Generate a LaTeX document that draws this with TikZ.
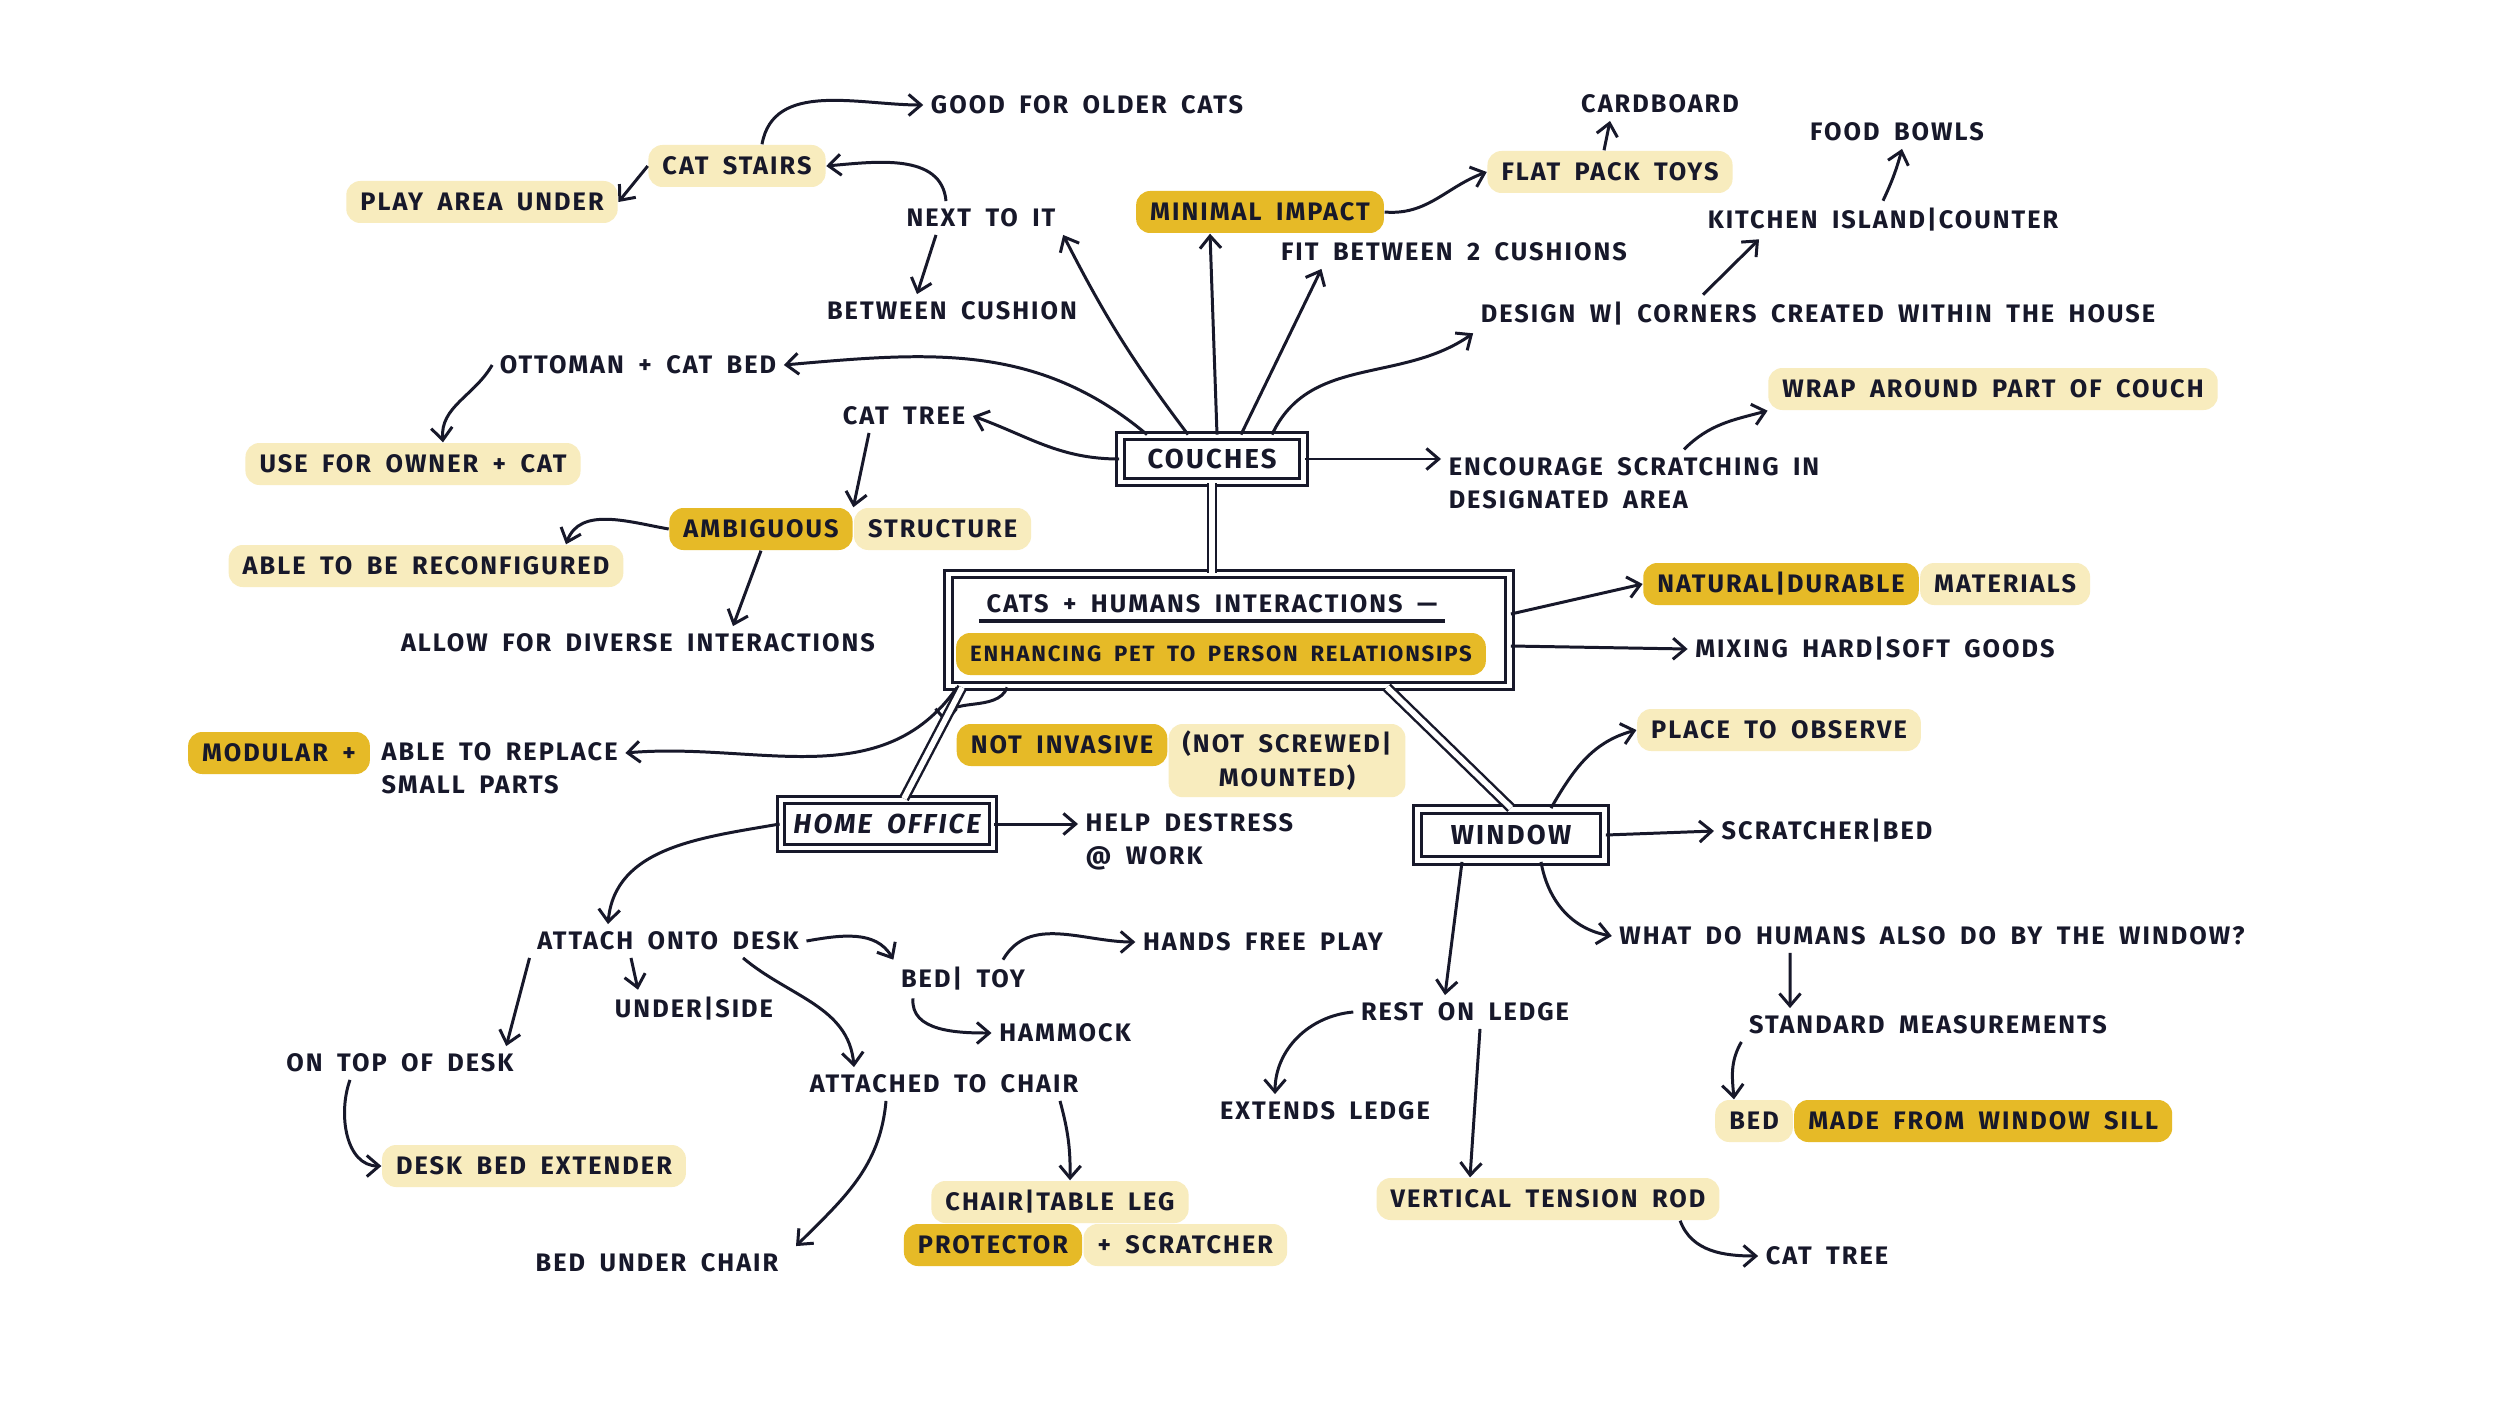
\documentclass[tikz,border=0pt]{standalone}
\usepackage{fontspec}
\setmainfont{Fira Sans}[LetterSpace=8,WordSpace=1.8]
\usetikzlibrary{arrows.meta,positioning}
\definecolor{ink}{HTML}{17182A}
\definecolor{hlight}{HTML}{F8ECBE}
\definecolor{hdark}{HTML}{E6BA27}

\begin{document}
\begin{tikzpicture}[
  font=\fontsize{7.2}{9.5}\selectfont\bfseries,
  txt/.style={inner sep=2pt, text=ink},
  hl/.style={txt, fill=hlight, rounded corners=4pt, inner xsep=4pt, minimum height=0.42cm},
  hd/.style={hl, fill=hdark},
  bx/.style={txt, draw=ink, line width=0.8pt, double, double distance=1.3pt, minimum height=0.46cm, font=\fontsize{7.8}{9.5}\selectfont\bfseries},
  arr/.style={-{Straight Barb[length=3.5pt,width=6pt]}, draw=ink, line width=0.85pt},
  link/.style={draw=ink, line width=0.7pt, double, double distance=1.6pt},
]
\path[use as bounding box, fill=white] (0,0) rectangle (25,-14.06);

% couches branch
\node[bx, minimum width=1.83cm] (couches) at (12.12,-4.59) {COUCHES};
\node[txt] (good) at (10.87,-1.05) {GOOD FOR OLDER CATS};
\node[hl] (stairs) at (7.37,-1.66) {CAT STAIRS};
\node[hl] (play) at (4.82,-2.02) {PLAY AREA UNDER};
\node[txt] (next) at (9.81,-2.18) {NEXT TO IT};
\node[txt] (between) at (9.52,-3.11) {BETWEEN CUSHION};
\node[hd] (minimal) at (12.60,-2.12) {MINIMAL IMPACT};
\node[hl] (flat) at (16.10,-1.72) {FLAT PACK TOYS};
\node[txt] (cardboard) at (16.60,-1.04) {CARDBOARD};
\node[txt] (food) at (18.97,-1.32) {FOOD BOWLS};
\node[txt] (kitchen) at (18.83,-2.20) {KITCHEN ISLAND|COUNTER};
\node[txt] (fit) at (14.54,-2.52) {FIT BETWEEN 2 CUSHIONS};
\node[txt] (design) at (18.18,-3.14) {DESIGN W| CORNERS CREATED WITHIN THE HOUSE};
\node[txt] (ottoman) at (6.38,-3.65) {OTTOMAN + CAT BED};
\node[txt] (cattree) at (9.04,-4.16) {CAT TREE};
\node[hl] (owner) at (4.13,-4.64) {USE FOR OWNER + CAT};
\node[txt, align=left] (encourage) at (16.34,-4.83) {ENCOURAGE SCRATCHING IN\\DESIGNATED AREA};
\node[hl] (wrap) at (19.93,-3.89) {WRAP AROUND PART OF COUCH};
\node[hd] (ambiguous) at (7.61,-5.29) {AMBIGUOUS};
\node[hl, right=0pt of ambiguous] (structure) {STRUCTURE};
\node[hl] (reconfig) at (4.26,-5.66) {ABLE TO BE RECONFIGURED};
\node[txt] (allow) at (6.38,-6.43) {ALLOW FOR DIVERSE INTERACTIONS};

% centre
\node[bx, minimum width=5.61cm, minimum height=1.12cm] (main) at (12.29,-6.30) {};
\node[txt] (title) at (12.12,-6.04) {CATS + HUMANS INTERACTIONS —};
\node[hd, minimum width=5.25cm, font=\fontsize{6.3}{9}\selectfont\bfseries] (enhance) at (12.21,-6.54) {ENHANCING PET TO PERSON RELATIONSIPS};
\draw[ink, line width=1pt] (title.south west) -- (title.south east);
\node[hd] (natural) at (17.81,-5.84) {NATURAL|DURABLE};
\node[hl, right=0pt of natural] (materials) {MATERIALS};
\node[txt] (mixing) at (18.75,-6.49) {MIXING HARD|SOFT GOODS};
\node[hd] (modular) at (2.79,-7.53) {MODULAR +};
\node[txt, align=left, anchor=west] (replace) at (3.74,-7.68) {ABLE TO REPLACE\\SMALL PARTS};
\node[hd] (invasive) at (10.62,-7.45) {NOT INVASIVE};
\node[hl, align=center, anchor=north west] (screwed) at (invasive.north east) {(NOT SCREWED|\\MOUNTED)};

% home office
\node[bx, minimum width=2.12cm, minimum height=0.48cm, font=\fontsize{7.8}{9.5}\selectfont\bfseries\itshape] (office) at (8.87,-8.24) {HOME OFFICE};
\node[txt, align=left, anchor=west] (destress) at (10.78,-8.42) {HELP DESTRESS\\@ WORK};
\node[txt] (attach) at (6.68,-9.41) {ATTACH ONTO DESK};
\node[txt] (bedtoy) at (9.63,-9.79) {BED| TOY};
\node[txt] (handsfree) at (12.63,-9.42) {HANDS FREE PLAY};
\node[txt] (hammock) at (10.65,-10.33) {HAMMOCK};
\node[txt] (underside) at (6.94,-10.09) {UNDER|SIDE};
\node[txt] (ontop) at (4.00,-10.63) {ON TOP OF DESK};
\node[txt] (chair) at (9.44,-10.84) {ATTACHED TO CHAIR};
\node[hl] (deskbed) at (5.34,-11.66) {DESK BED EXTENDER};
\node[txt] (bedunder) at (6.57,-12.63) {BED UNDER CHAIR};
\node[hl] (tableleg) at (10.60,-12.02) {CHAIR|TABLE LEG};
\node[hd] (protector) at (9.93,-12.45) {PROTECTOR};
\node[hl, right=0pt of protector] (scratch) {+ SCRATCHER};

% window
\node[bx, minimum width=1.87cm, minimum height=0.51cm] (window) at (15.11,-8.35) {WINDOW};
\node[hl] (observe) at (17.79,-7.30) {PLACE TO OBSERVE};
\node[txt] (scratcher) at (18.27,-8.31) {SCRATCHER|BED};
\node[txt] (humans) at (19.32,-9.36) {WHAT DO HUMANS ALSO DO BY THE WINDOW?};
\node[txt] (rest) at (14.65,-10.12) {REST ON LEDGE};
\node[txt] (extends) at (13.25,-11.11) {EXTENDS LEDGE};
\node[txt] (standard) at (19.28,-10.25) {STANDARD MEASUREMENTS};
\node[hl] (bedlt) at (17.54,-11.21) {BED};
\node[hd, right=0pt of bedlt] (sill) {MADE FROM WINDOW SILL};
\node[hl] (rod) at (15.48,-11.99) {VERTICAL TENSION ROD};
\node[txt] (cattree2) at (18.27,-12.56) {CAT TREE};

% arrows
\draw[arr] ([xshift=2.5mm]stairs.north) to[out=80,in=180] (good.west);
\draw[arr] ([xshift=-3.5mm]next.north) to[out=95,in=5] (stairs.east);
\draw[arr] (stairs.west) -- (play.east);
\draw[arr] ([xshift=-4.5mm]next.south) -- ([xshift=-3.5mm]between.north);
\draw[arr] ([xshift=-2.4mm]couches.north) to[bend left=5] (next.south east);
\draw[arr] ([xshift=0.5mm]couches.north) -- ([xshift=-5mm]minimal.south);
\draw[arr] ([xshift=2.9mm]couches.north) -- ([xshift=4.8mm]fit.south west);
\draw[arr] ([xshift=6mm]couches.north) to[out=65,in=215] (design.south west);
\draw[arr] (minimal.east) to[out=-5,in=200] (flat.west);
\draw[arr] ([xshift=-0.6mm]flat.north) -- ([xshift=-5mm]cardboard.south);
\draw[arr] ([xshift=-11.5mm]design.north) -- ([xshift=-12.4mm]kitchen.south);
\draw[arr] (kitchen.north) to[bend right=5] ([xshift=0.5mm]food.south);
\draw[arr] ([xshift=-6.5mm]couches.north) to[out=140,in=5] (ottoman.east);
\draw[arr] (ottoman.west) to[out=240,in=95] ([xshift=3mm]owner.north);
\draw[arr] (couches.west) to[out=180,in=-20] (cattree.east);
\draw[arr] ([xshift=-3.5mm]cattree.south) -- (ambiguous.north east);
\draw[arr] (ambiguous.west) to[out=170,in=70] ([xshift=14mm]reconfig.north);
\draw[arr] (ambiguous.south) -- ([xshift=9.5mm]allow.north);
\draw[arr] (couches.east) -- (couches.east -| encourage.west);
\draw[arr] ([xshift=5mm]encourage.north) to[out=45,in=195] (wrap.south west);
\draw[link] (couches.south) -- (couches.south |- main.north);
\draw[arr] ([yshift=1.6mm]main.east) -- (natural.west);
\draw[arr] ([yshift=-1.6mm]main.east) -- (mixing.west);
\draw[arr] ([xshift=1mm]main.south west) to[out=235,in=5] ([yshift=1.5mm]replace.east);
\draw[arr] ([xshift=6mm]main.south west) to[out=250,in=90] ([xshift=-1mm]invasive.north west);
\draw[link] ([xshift=1.5mm]main.south west) -- ([xshift=1.7mm]office.north);
\draw[link] ([xshift=15.8mm]main.south) -- (window.north);
\draw[arr] (office.east) -- (office.east -| destress.west);
\draw[arr] (office.west) to[out=190,in=85] ([xshift=-6mm]attach.north);
\draw[arr] (attach.east) to[out=10,in=120] (bedtoy.north west);
\draw[arr] ([xshift=-3.7mm]attach.south) -- ([xshift=-5.6mm]underside.north);
\draw[arr] (attach.south west) -- ([xshift=-1.5mm]ontop.north east);
\draw[arr] ([xshift=7.5mm]attach.south) to[out=-40,in=95] ([xshift=-9mm]chair.north);
\draw[arr] ([xshift=4mm]bedtoy.north) to[out=60,in=180] (handsfree.west);
\draw[arr] ([xshift=-5mm]bedtoy.south) to[out=-95,in=180] (hammock.west);
\draw[arr] ([xshift=-5mm]ontop.south) to[out=250,in=180] (deskbed.west);
\draw[arr] ([xshift=-5.8mm]chair.south) to[out=265,in=45] ([xshift=1mm]bedunder.north east);
\draw[arr] ([xshift=11.6mm]chair.south) to[bend left=8] ([xshift=1mm]tableleg.north);
\draw[arr] ([xshift=4mm]window.north) to[out=60,in=195] (observe.west);
\draw[arr] (window.east) -- (scratcher.west);
\draw[arr] ([xshift=-4.9mm]window.south) -- ([xshift=-2mm]rest.north);
\draw[arr] ([xshift=3mm]window.south) to[out=-80,in=170] (humans.west);
\draw[arr] ([xshift=-14.2mm]humans.south) -- ([xshift=-13.8mm]standard.north);
\draw[arr] (standard.south west) to[out=240,in=95] ([xshift=-2mm]bedlt.north);
\draw[arr] (rest.west) to[out=185,in=90] ([xshift=-5mm]extends.north);
\draw[arr] ([xshift=1.5mm]rest.south) -- ([xshift=-7.8mm]rod.north);
\draw[arr] ([xshift=-4mm]rod.south east) to[out=-70,in=180] (cattree2.west);
\end{tikzpicture}
\end{document}
